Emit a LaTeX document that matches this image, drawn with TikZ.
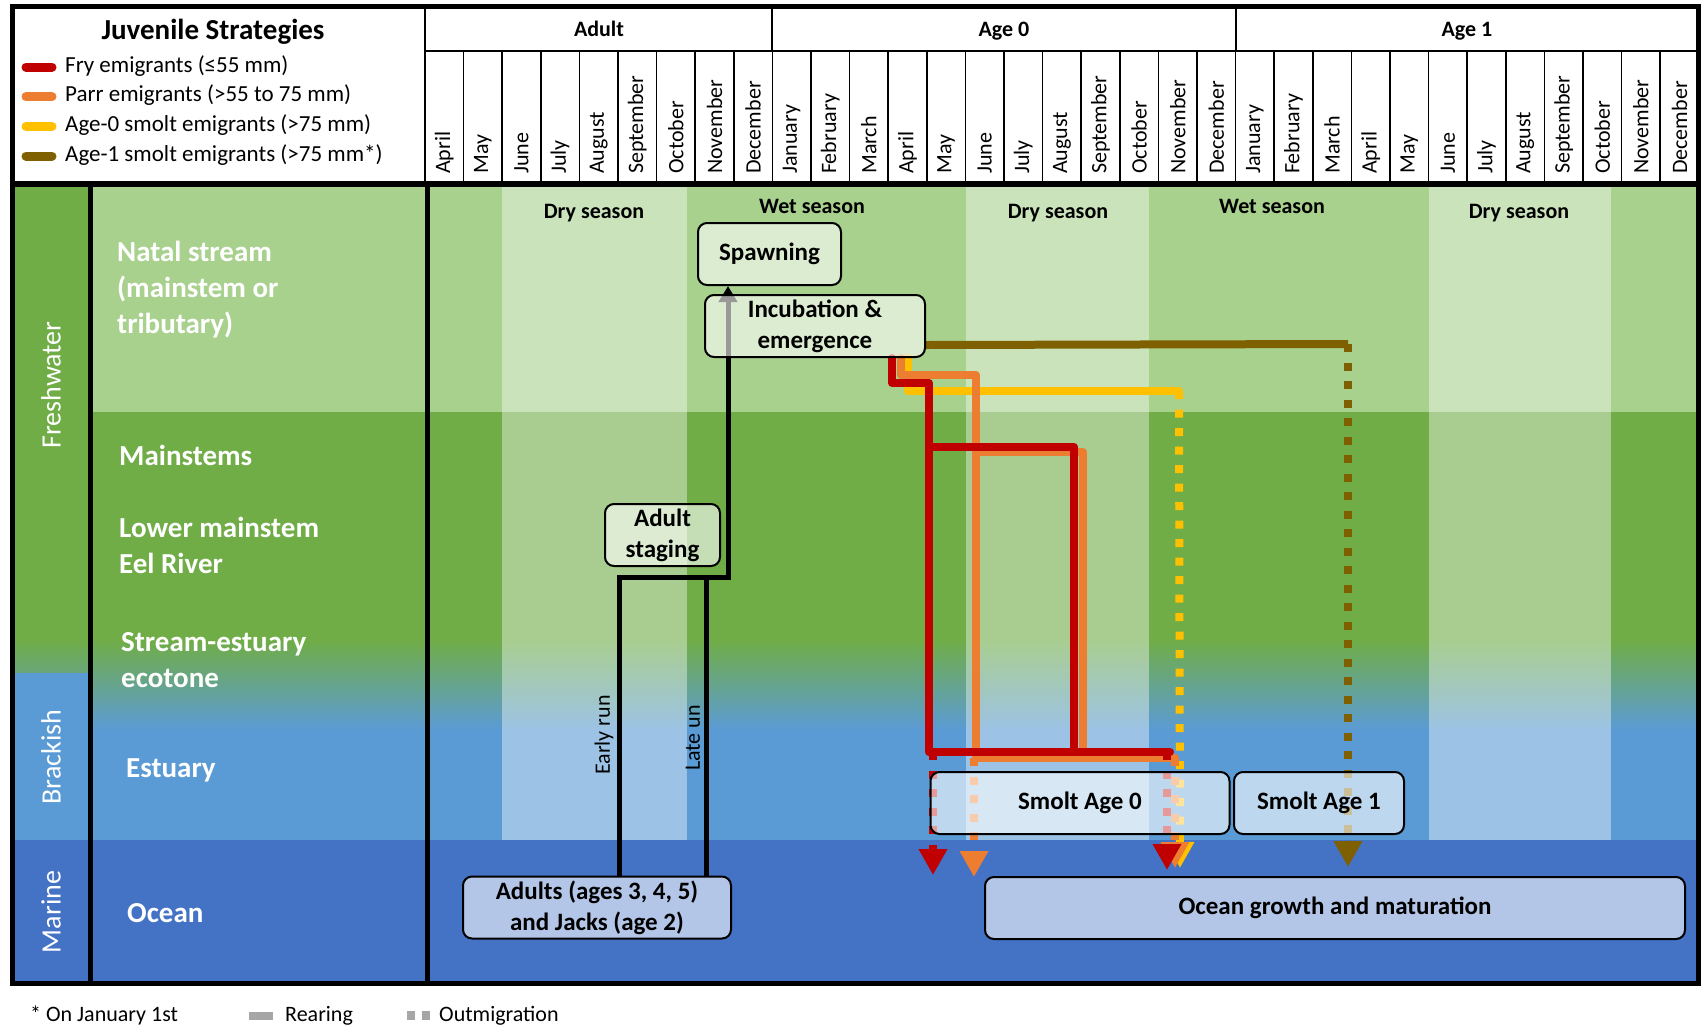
\documentclass[tikz,border=0pt]{standalone}
\usepackage{fontspec}
\setmainfont{Carlito}
\usetikzlibrary{arrows.meta,backgrounds}
\definecolor{natalgreen}{HTML}{A9D18E}
\definecolor{stemgreen}{HTML}{70AD47}
\definecolor{estblue}{HTML}{5B9BD5}
\definecolor{oceanblue}{HTML}{4472C4}
\definecolor{fryred}{HTML}{C00000}
\definecolor{parrorange}{HTML}{ED7D31}
\definecolor{smoltyellow}{HTML}{FFC000}
\definecolor{smoltbrown}{HTML}{7F6000}
\definecolor{keygrey}{HTML}{A6A6A6}

\begin{document}
\begin{tikzpicture}[x=1pt,y=-1pt,
  every node/.style={inner sep=0pt,font=\fontsize{22}{26}\selectfont},
  habitat/.style={anchor=base west,align=left,text=white,
    font=\fontsize{29}{36}\selectfont\bfseries},
  zone/.style={rotate=90,text=white,font=\fontsize{28}{34}\selectfont},
  month/.style={rotate=90,anchor=west},
  hdr/.style={anchor=base,font=\fontsize{22}{26}\selectfont\bfseries},
  season/.style={anchor=base,font=\fontsize{22}{26}\selectfont\bfseries},
  stagebox/.style={draw,line width=2pt,rounded corners=9pt,fill=white,
    fill opacity=0.6,text opacity=1,align=center,minimum height=62pt,
    font=\fontsize{25}{31}\selectfont\bfseries},
  rearing/.style={line width=8pt,line cap=round,line join=round},
  outmig/.style={line width=8pt,dash pattern=on 8pt off 10.5pt,
    -{Triangle[width=27pt,length=26pt]}},
  runline/.style={line width=5pt},
  thickrule/.style={line width=5pt},
  thinrule/.style={line width=2pt}]
  \useasboundingbox (0,0) rectangle (1701,1029);

  \begin{scope}[on background layer]
    \fill[white] (0,0) rectangle (1701,1029);
    \fill[natalgreen] (12,187) rectangle (1699,412);
    \fill[stemgreen] (12,412) rectangle (1699,640);
    \shade[top color=stemgreen,bottom color=estblue] (12,640) rectangle (1699,730);
    \fill[estblue] (12,730) rectangle (1699,840);
    \fill[oceanblue] (12,840) rectangle (1699,983);
    \fill[stemgreen] (12,187) rectangle (90,640);
    \fill[estblue] (12,673) rectangle (90,840);
    \foreach \a/\b in {502/687,966/1149,1429/1611}
      \fill[white,opacity=0.4] (\a,187) rectangle (\b,840);
  \end{scope}

  % legend
  \node[anchor=base,font=\fontsize{29}{34}\selectfont\bfseries] (legtitle) at (213,39) {Juvenile Strategies};
  \foreach \c/\t [count=\k from 0] in {fryred/Fry emigrants (≤55 mm),
      parrorange/Parr emigrants (>55 to 75 mm),
      smoltyellow/Age-0 smolt emigrants (>75 mm),
      smoltbrown/Age-1 smolt emigrants (>75 mm*)} {
    \draw[color=\c,line width=9pt,line cap=round] (26,{67+29.7*\k}) -- (52,{67+29.7*\k});
    \node[anchor=base west,font=\fontsize{23}{28}\selectfont] (key\k) at (65,{72+29.7*\k}) {\t};
  }

  % time axis
  \node[hdr] (adulthdr) at (599,36) {Adult};
  \node[hdr] (age0hdr) at (1004,36) {Age 0};
  \node[hdr] (age1hdr) at (1467,36) {Age 1};
  \foreach \m [count=\i from 0] in {April,May,June,July,August,September,October,November,December,
      January,February,March,April,May,June,July,August,September,October,November,December,
      January,February,March,April,May,June,July,August,September,October,November,December}
    \node[month] (m\i) at ({425+38.6*\i+19.3},174) {\m};
  \foreach \i in {1,...,32}
    \draw[line width=1.5pt] ({425+38.6*\i},51) -- ({425+38.6*\i},184);
  \draw[thinrule] (425,51) -- (1698,51);
  \draw[thinrule] (772.4,6) -- (772.4,51);
  \draw[thinrule] (1235.6,6) -- (1235.6,51);
  \draw[thinrule] (425,6) -- (425,184);

  % frame
  \draw[thickrule] (12,6) rectangle (1698,983);
  \draw[line width=6pt] (12,184) -- (1698,184);
  \draw[thickrule] (90,184) -- (90,983);
  \draw[thickrule] (427,184) -- (427,983);

  % zones and habitats
  \node[zone] (fresh) at (51,385) {Freshwater};
  \node[zone] (brackish) at (51,757) {Brackish};
  \node[zone] (marine) at (51,912) {Marine};
  \node[habitat] (natal) at (117,333) {Natal stream\\(mainstem or\\tributary)};
  \node[habitat] (mainstems) at (119,465) {Mainstems};
  \node[habitat] (lower) at (119,573) {Lower mainstem\\Eel River};
  \node[habitat] (ecotone) at (121,687) {Stream-estuary\\ecotone};
  \node[habitat] (estuary) at (126,777) {Estuary};
  \node[habitat] (oceanlbl) at (127,922) {Ocean};

  \foreach \x/\y/\s [count=\k] in {594/218/Dry season,812/213/Wet season,
      1058/218/Dry season,1272/213/Wet season,1519/218/Dry season}
    \node[season] (season\k) at (\x,\y) {\s};

  % life stages
  \node[stagebox,minimum width=143pt] (spawn) at (769.5,254) {Spawning};
  \node[stagebox,minimum width=220pt] (incub) at (815,326) {Incubation \&\\emergence};
  \node[stagebox,minimum width=115pt] (staging) at (662.5,535) {Adult\\staging};
  \node[stagebox,minimum width=268pt] (adults) at (597,907.5) {Adults (ages 3, 4, 5)\\and Jacks (age 2)};
  \node[stagebox,minimum width=299pt] (smolt0) at (1080,803) {Smolt Age 0};
  \node[stagebox,minimum width=170pt] (smolt1) at (1319,803) {Smolt Age 1};
  \node[stagebox,minimum width=700pt] (growth) at (1335,908) {Ocean growth and maturation};

  \node[rotate=90] (earlylbl) at (604,735) {Early run};
  \node[rotate=90] (latelbl) at (693,738) {Late un};

  \coordinate (earlyrun) at (619,577);
  \coordinate (laterun) at (706,577);
  \coordinate (runjoin) at (728,577);
  \coordinate (tipfryA) at (933,875);
  \coordinate (tipfryB) at (1167,870);
  \coordinate (tipparrA) at (974,877);
  \coordinate (tipparrB) at (1175,868);
  \coordinate (tipage0) at (1180,868);
  \coordinate (tipage1) at (1348,867);

  \begin{scope}[on background layer]
    \draw[runline,-{Triangle[width=18pt,length=16pt]}] (adults.north -| earlyrun) |- (runjoin) -- (spawn.south -| runjoin);
    \draw[runline] (adults.north -| laterun) -- (laterun);

    \draw[rearing,smoltbrown,line cap=butt] ([yshift=-19pt]incub.east) -- (1348,344);
    \draw[outmig,smoltbrown] (1348,344) -- (tipage1);
    \draw[rearing,smoltyellow] ([xshift=204pt]incub.south west) |- (1179,391);
    \draw[outmig,smoltyellow] (1179,391) -- (tipage0);
    \draw[rearing,parrorange] ([xshift=197pt]incub.south west) |- (976,375) -- (976,758) -- (1175,758);
    \draw[rearing,parrorange] (976,452) -- (1083,452) -- (1083,758);
    \draw[outmig,parrorange] (974,758) -- (tipparrA);
    \draw[outmig,parrorange] (1175,758) -- (tipparrB);
    \draw[rearing,fryred] ([xshift=188pt]incub.south west) |- (929,383) -- (929,752) -- (1170,752);
    \draw[rearing,fryred] (929,447) -- (1074,447) -- (1074,752);
    \draw[outmig,fryred] (933,752) -- (tipfryA);
    \draw[outmig,fryred] (1167,752) -- (tipfryB);
  \end{scope}

  % key
  \node[anchor=base west] (footnote) at (30,1021) {* On January 1st};
  \draw[keygrey,line width=8pt] (249,1016) -- (273,1016);
  \node[anchor=base west] (rearkey) at (285,1021) {Rearing};
  \draw[keygrey,line width=9pt,dash pattern=on 8pt off 7pt] (407,1015) -- (432,1015);
  \node[anchor=base west] (outkey) at (439,1021) {Outmigration};
\end{tikzpicture}
\end{document}
